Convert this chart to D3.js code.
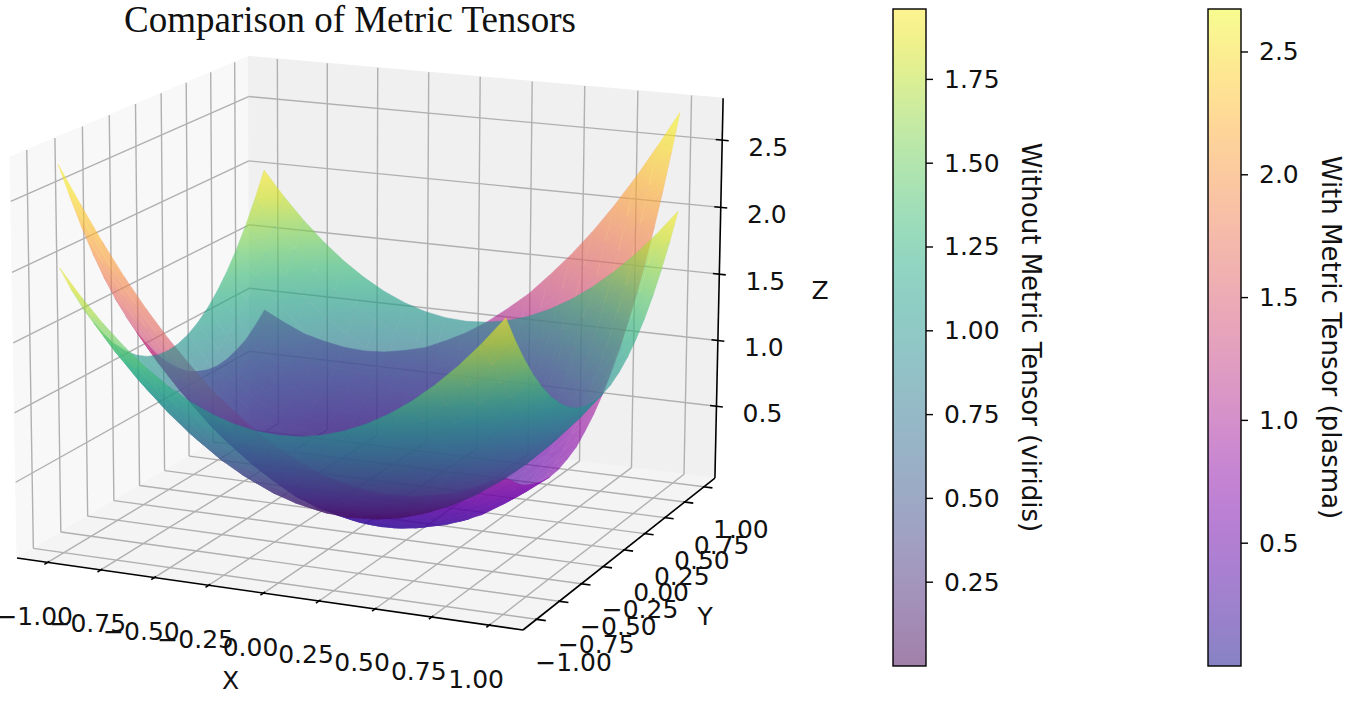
<!DOCTYPE html>
<html>
<head>
<meta charset="utf-8">
<script src="https://cdn.jsdelivr.net/npm/d3@7"></script>
<style>
body{margin:0;background:#fff;}
text{font-family:"DejaVu Sans",sans-serif;font-size:25px;fill:#111;}
.title{font-family:"Liberation Serif","Times New Roman",serif;font-size:37px;}
.cbtitle{font-size:26px;}
</style>
</head>
<body>
<svg id="vis" width="1352" height="703"></svg>
<script>

// sample grid (x along columns, y along rows)
var gridX = [-1,-0.9,-0.8,-0.7,-0.6,-0.5,-0.4,-0.3,-0.2,-0.1,0,0.1,0.2,0.3,0.4,0.5,0.6,0.7,0.8,0.9,1];
var gridY = [-1,-0.9,-0.8,-0.7,-0.6,-0.5,-0.4,-0.3,-0.2,-0.1,0,0.1,0.2,0.3,0.4,0.5,0.6,0.7,0.8,0.9,1];

// surface without metric tensor (viridis)
var zWithout = [
 [2,1.81,1.64,1.49,1.36,1.25,1.16,1.09,1.04,1.01,1,1.01,1.04,1.09,1.16,1.25,1.36,1.49,1.64,1.81,2],
 [1.81,1.62,1.45,1.3,1.17,1.06,0.97,0.9,0.85,0.82,0.81,0.82,0.85,0.9,0.97,1.06,1.17,1.3,1.45,1.62,1.81],
 [1.64,1.45,1.28,1.13,1,0.89,0.8,0.73,0.68,0.65,0.64,0.65,0.68,0.73,0.8,0.89,1,1.13,1.28,1.45,1.64],
 [1.49,1.3,1.13,0.98,0.85,0.74,0.65,0.58,0.53,0.5,0.49,0.5,0.53,0.58,0.65,0.74,0.85,0.98,1.13,1.3,1.49],
 [1.36,1.17,1,0.85,0.72,0.61,0.52,0.45,0.4,0.37,0.36,0.37,0.4,0.45,0.52,0.61,0.72,0.85,1,1.17,1.36],
 [1.25,1.06,0.89,0.74,0.61,0.5,0.41,0.34,0.29,0.26,0.25,0.26,0.29,0.34,0.41,0.5,0.61,0.74,0.89,1.06,1.25],
 [1.16,0.97,0.8,0.65,0.52,0.41,0.32,0.25,0.2,0.17,0.16,0.17,0.2,0.25,0.32,0.41,0.52,0.65,0.8,0.97,1.16],
 [1.09,0.9,0.73,0.58,0.45,0.34,0.25,0.18,0.13,0.1,0.09,0.1,0.13,0.18,0.25,0.34,0.45,0.58,0.73,0.9,1.09],
 [1.04,0.85,0.68,0.53,0.4,0.29,0.2,0.13,0.08,0.05,0.04,0.05,0.08,0.13,0.2,0.29,0.4,0.53,0.68,0.85,1.04],
 [1.01,0.82,0.65,0.5,0.37,0.26,0.17,0.1,0.05,0.02,0.01,0.02,0.05,0.1,0.17,0.26,0.37,0.5,0.65,0.82,1.01],
 [1,0.81,0.64,0.49,0.36,0.25,0.16,0.09,0.04,0.01,0,0.01,0.04,0.09,0.16,0.25,0.36,0.49,0.64,0.81,1],
 [1.01,0.82,0.65,0.5,0.37,0.26,0.17,0.1,0.05,0.02,0.01,0.02,0.05,0.1,0.17,0.26,0.37,0.5,0.65,0.82,1.01],
 [1.04,0.85,0.68,0.53,0.4,0.29,0.2,0.13,0.08,0.05,0.04,0.05,0.08,0.13,0.2,0.29,0.4,0.53,0.68,0.85,1.04],
 [1.09,0.9,0.73,0.58,0.45,0.34,0.25,0.18,0.13,0.1,0.09,0.1,0.13,0.18,0.25,0.34,0.45,0.58,0.73,0.9,1.09],
 [1.16,0.97,0.8,0.65,0.52,0.41,0.32,0.25,0.2,0.17,0.16,0.17,0.2,0.25,0.32,0.41,0.52,0.65,0.8,0.97,1.16],
 [1.25,1.06,0.89,0.74,0.61,0.5,0.41,0.34,0.29,0.26,0.25,0.26,0.29,0.34,0.41,0.5,0.61,0.74,0.89,1.06,1.25],
 [1.36,1.17,1,0.85,0.72,0.61,0.52,0.45,0.4,0.37,0.36,0.37,0.4,0.45,0.52,0.61,0.72,0.85,1,1.17,1.36],
 [1.49,1.3,1.13,0.98,0.85,0.74,0.65,0.58,0.53,0.5,0.49,0.5,0.53,0.58,0.65,0.74,0.85,0.98,1.13,1.3,1.49],
 [1.64,1.45,1.28,1.13,1,0.89,0.8,0.73,0.68,0.65,0.64,0.65,0.68,0.73,0.8,0.89,1,1.13,1.28,1.45,1.64],
 [1.81,1.62,1.45,1.3,1.17,1.06,0.97,0.9,0.85,0.82,0.81,0.82,0.85,0.9,0.97,1.06,1.17,1.3,1.45,1.62,1.81],
 [2,1.81,1.64,1.49,1.36,1.25,1.16,1.09,1.04,1.01,1,1.01,1.04,1.09,1.16,1.25,1.36,1.49,1.64,1.81,2]
];

// surface with metric tensor (plasma)
var zWith = [
 [2.73,2.47,2.22,1.99,1.78,1.59,1.42,1.26,1.13,1.01,0.91,0.83,0.76,0.72,0.69,0.68,0.69,0.72,0.76,0.83,0.91],
 [2.47,2.21,1.97,1.76,1.56,1.37,1.21,1.06,0.94,0.83,0.74,0.66,0.61,0.57,0.56,0.56,0.57,0.61,0.66,0.74,0.83],
 [2.22,1.97,1.75,1.54,1.35,1.17,1.02,0.88,0.76,0.66,0.58,0.52,0.47,0.45,0.44,0.45,0.47,0.52,0.58,0.66,0.76],
 [1.99,1.76,1.54,1.34,1.16,0.99,0.85,0.72,0.61,0.52,0.45,0.39,0.35,0.34,0.34,0.35,0.39,0.45,0.52,0.61,0.72],
 [1.78,1.56,1.35,1.16,0.98,0.83,0.69,0.57,0.47,0.39,0.33,0.28,0.25,0.25,0.25,0.28,0.33,0.39,0.47,0.57,0.69],
 [1.59,1.37,1.17,0.99,0.83,0.68,0.56,0.45,0.35,0.28,0.23,0.19,0.17,0.17,0.19,0.23,0.28,0.35,0.45,0.56,0.68],
 [1.42,1.21,1.02,0.85,0.69,0.56,0.44,0.34,0.25,0.19,0.15,0.12,0.11,0.12,0.15,0.19,0.25,0.34,0.44,0.56,0.69],
 [1.26,1.06,0.88,0.72,0.57,0.45,0.34,0.25,0.17,0.12,0.08,0.06,0.06,0.08,0.12,0.17,0.25,0.34,0.45,0.57,0.72],
 [1.13,0.94,0.76,0.61,0.47,0.35,0.25,0.17,0.11,0.06,0.04,0.03,0.04,0.06,0.11,0.17,0.25,0.35,0.47,0.61,0.76],
 [1.01,0.83,0.66,0.52,0.39,0.28,0.19,0.12,0.06,0.03,0.01,0.01,0.03,0.06,0.12,0.19,0.28,0.39,0.52,0.66,0.83],
 [0.91,0.74,0.58,0.45,0.33,0.23,0.15,0.08,0.04,0.01,0,0.01,0.04,0.08,0.15,0.23,0.33,0.45,0.58,0.74,0.91],
 [0.83,0.66,0.52,0.39,0.28,0.19,0.12,0.06,0.03,0.01,0.01,0.03,0.06,0.12,0.19,0.28,0.39,0.52,0.66,0.83,1.01],
 [0.76,0.61,0.47,0.35,0.25,0.17,0.11,0.06,0.04,0.03,0.04,0.06,0.11,0.17,0.25,0.35,0.47,0.61,0.76,0.94,1.13],
 [0.72,0.57,0.45,0.34,0.25,0.17,0.12,0.08,0.06,0.06,0.08,0.12,0.17,0.25,0.34,0.45,0.57,0.72,0.88,1.06,1.26],
 [0.69,0.56,0.44,0.34,0.25,0.19,0.15,0.12,0.11,0.12,0.15,0.19,0.25,0.34,0.44,0.56,0.69,0.85,1.02,1.21,1.42],
 [0.68,0.56,0.45,0.35,0.28,0.23,0.19,0.17,0.17,0.19,0.23,0.28,0.35,0.45,0.56,0.68,0.83,0.99,1.17,1.37,1.59],
 [0.69,0.57,0.47,0.39,0.33,0.28,0.25,0.25,0.25,0.28,0.33,0.39,0.47,0.57,0.69,0.83,0.98,1.16,1.35,1.56,1.78],
 [0.72,0.61,0.52,0.45,0.39,0.35,0.34,0.34,0.35,0.39,0.45,0.52,0.61,0.72,0.85,0.99,1.16,1.34,1.54,1.76,1.99],
 [0.76,0.66,0.58,0.52,0.47,0.45,0.44,0.45,0.47,0.52,0.58,0.66,0.76,0.88,1.02,1.17,1.35,1.54,1.75,1.97,2.22],
 [0.83,0.74,0.66,0.61,0.57,0.56,0.56,0.57,0.61,0.66,0.74,0.83,0.94,1.06,1.21,1.37,1.56,1.76,1.97,2.21,2.47],
 [0.91,0.83,0.76,0.72,0.69,0.68,0.69,0.72,0.76,0.83,0.91,1.01,1.13,1.26,1.42,1.59,1.78,1.99,2.22,2.47,2.73]
];

var xTicks = [-1,-0.75,-0.5,-0.25,0,0.25,0.5,0.75,1];
var xTickLabels = ["\u22121.00","\u22120.75","\u22120.50","\u22120.25","0.00","0.25","0.50","0.75","1.00"];
var yTicks = [-1,-0.75,-0.5,-0.25,0,0.25,0.5,0.75,1];
var yTickLabels = ["\u22121.00","\u22120.75","\u22120.50","\u22120.25","0.00","0.25","0.50","0.75","1.00"];
var zTicks = [0.5,1,1.5,2,2.5];
var zTickLabels = ["0.5","1.0","1.5","2.0","2.5"];

// colour ranges of the two colorbars
var withoutRange = [0, 1.96];
var withRange = [0, 2.675];
var withoutTicks = [0.25,0.5,0.75,1,1.25,1.5,1.75];
var withoutTickLabels = ["0.25","0.50","0.75","1.00","1.25","1.50","1.75"];
var withTicks = [0.5,1,1.5,2,2.5];
var withTickLabels = ["0.5","1.0","1.5","2.0","2.5"];

// axis box limits
var xBox = [-1.146, 1.146], yBox = [-1.146, 1.146], zBox = [-0.05, 2.81];


function drawChart(){
    var svg = d3.select("#vis");
    svg.selectAll("*").remove();
    svg.append("rect").attr("width", 1352).attr("height", 703).attr("fill", "#fff");
    var defs = svg.append("defs");

    var uScale = d3.scaleLinear().domain(xBox).range([0, 1]);
    var vScale = d3.scaleLinear().domain(yBox).range([0, 1]);
    var wScale = d3.scaleLinear().domain(zBox).range([0, 1]);

    // perspective camera: screen spots of the box origin and the 3 axis-end corners, plus depth weights
    var cam = {o: [17, 558], ex: [523, 630], ey: [250, 420], ez: [10, 157], wx: 0.95, wy: 1.109, wz: 0.978};

    function proj(x, y, z){
        var u = uScale(x), v = vScale(y), w = wScale(z);
        var hx = cam.o[0] + u*(cam.wx*cam.ex[0]-cam.o[0]) + v*(cam.wy*cam.ey[0]-cam.o[0]) + w*(cam.wz*cam.ez[0]-cam.o[0]);
        var hy = cam.o[1] + u*(cam.wx*cam.ex[1]-cam.o[1]) + v*(cam.wy*cam.ey[1]-cam.o[1]) + w*(cam.wz*cam.ez[1]-cam.o[1]);
        var hw = 1 + u*(cam.wx-1) + v*(cam.wy-1) + w*(cam.wz-1);
        return [hx/hw, hy/hw, hw];
    }
    var line = d3.line();
    function poly(pts){ return line(pts.map(function(p){return [p[0], p[1]];})) + "Z"; }

    var x0 = xBox[0], x1 = xBox[1], y0 = yBox[0], y1 = yBox[1], z0 = zBox[0], z1 = zBox[1];

    //panes
    var panes = [
        {c: [[x0,y0,z0],[x0,y1,z0],[x0,y1,z1],[x0,y0,z1]], fill: "#f8f8f8"},
        {c: [[x0,y1,z0],[x1,y1,z0],[x1,y1,z1],[x0,y1,z1]], fill: "#f0f0f0"},
        {c: [[x0,y0,z0],[x1,y0,z0],[x1,y1,z0],[x0,y1,z0]], fill: "#f4f4f4"}
    ];
    svg.append("g").selectAll("path")
        .data(panes)
        .enter().append("path")
        .attr("d", function(d){ return poly(d.c.map(function(p){return proj(p[0],p[1],p[2]);})); })
        .attr("fill", function(d){return d.fill;})
        .attr("stroke", function(d){return d.fill;});

    //grid lines on the panes
    var grid = [];
    yTicks.forEach(function(y){ grid.push([[x0,y,z0],[x0,y,z1]]); grid.push([[x0,y,z0],[x1,y,z0]]); });
    xTicks.forEach(function(x){ grid.push([[x,y1,z0],[x,y1,z1]]); grid.push([[x,y0,z0],[x,y1,z0]]); });
    zTicks.forEach(function(z){ grid.push([[x0,y0,z],[x0,y1,z]]); grid.push([[x0,y1,z],[x1,y1,z]]); });
    svg.append("g").selectAll("line")
        .data(grid)
        .enter().append("line")
        .each(function(d){
            var a = proj(d[0][0],d[0][1],d[0][2]), b = proj(d[1][0],d[1][1],d[1][2]);
            d3.select(this).attr("x1",a[0]).attr("y1",a[1]).attr("x2",b[0]).attr("y2",b[1]);
        })
        .attr("stroke", "#b0b0b0")
        .attr("stroke-width", 1.4);

    //surfaces
    var gid = 0;
    function surface(zs, cmap, range){
        var quads = [];
        for(var j = 0; j < gridY.length-1; j++){
            for(var i = 0; i < gridX.length-1; i++){
                var idx = [[i,j],[i+1,j],[i+1,j+1],[i,j+1]];
                var pts = idx.map(function(p){ return proj(gridX[p[0]], gridY[p[1]], zs[p[1]][p[0]]); });
                var zv = idx.map(function(p){ return zs[p[1]][p[0]]; });
                var area = 0;
                for(var k = 0; k < 4; k++){
                    var p = pts[k], q = pts[(k+1)%4];
                    area += p[0]*q[1] - q[0]*p[1];
                }
                quads.push({pts: pts, zv: zv, avg: d3.mean(zv), area: area, depth: d3.mean(pts, function(p){return p[2];})});
            }
        }
        var color = d3.scaleSequential(cmap).domain(range).clamp(true);

        // shade each cell along its own z slope in screen space
        quads.forEach(function(q){
            var P = q.pts, Z = q.zv;
            q.stroke = color(q.avg);
            q.fill = q.stroke;
            var du = [(P[1][0]+P[2][0]-P[0][0]-P[3][0])/2, (P[1][1]+P[2][1]-P[0][1]-P[3][1])/2];
            var dv = [(P[2][0]+P[3][0]-P[0][0]-P[1][0])/2, (P[2][1]+P[3][1]-P[0][1]-P[1][1])/2];
            var dzu = (Z[1]+Z[2]-Z[0]-Z[3])/2, dzv = (Z[2]+Z[3]-Z[0]-Z[1])/2;
            var det = du[0]*dv[1] - du[1]*dv[0];
            if(Math.abs(det) < 1e-6) return;
            var gx = (dzu*dv[1] - du[1]*dzv)/det, gy = (du[0]*dzv - dzu*dv[0])/det;
            var g2 = gx*gx + gy*gy, half = (d3.max(Z) - d3.min(Z))/2;
            if(g2 < 1e-12 || half < 0.003) return;
            var cx = d3.mean(P, function(p){return p[0];}), cy = d3.mean(P, function(p){return p[1];});
            var k = half/g2, id = "cell" + (gid++);
            var grad = defs.append("linearGradient").attr("id", id)
                .attr("gradientUnits", "userSpaceOnUse")
                .attr("x1", cx - gx*k).attr("y1", cy - gy*k)
                .attr("x2", cx + gx*k).attr("y2", cy + gy*k);
            grad.append("stop").attr("offset", 0).attr("stop-color", color(q.avg - half));
            grad.append("stop").attr("offset", 0.5).attr("stop-color", color(q.avg));
            grad.append("stop").attr("offset", 1).attr("stop-color", color(q.avg + half));
            q.fill = "url(#" + id + ")";
        });

        var mid = quads[Math.floor(quads.length/2)];
        var sign = mid.area > 0 ? 1 : -1;
        var top = quads.filter(function(q){ return q.area*sign > 0; });
        var under = quads.filter(function(q){ return q.area*sign <= 0; });
        [top, under].forEach(function(list){
            list.sort(function(a, b){ return b.depth - a.depth; });
            svg.append("g").attr("opacity", 0.62)
                .selectAll("path")
                .data(list)
                .enter().append("path")
                .attr("d", function(d){ return poly(d.pts); })
                .attr("fill", function(d){ return d.fill; })
                .attr("stroke", function(d){ return d.stroke; })
                .attr("stroke-width", 0.6)
                .attr("stroke-linejoin", "round");
        });
    }
    surface(zWith, d3.interpolatePlasma, withRange);
    surface(zWithout, d3.interpolateViridis, withoutRange);

    //axis lines
    var axes = [
        [[x0,y0,z0],[x1,y0,z0]],
        [[x1,y0,z0],[x1,y1,z0]],
        [[x1,y1,z0],[x1,y1,z1]]
    ];
    var ticks = [];
    xTicks.forEach(function(x){ ticks.push([[x,y0+0.015,z0],[x,y0-0.03,z0]]); });
    yTicks.forEach(function(y){ ticks.push([[x1-0.005,y,z0],[x1+0.04,y,z0]]); });
    zTicks.forEach(function(z){ ticks.push([[x1-0.03,y1,z],[x1+0.03,y1,z]]); });
    svg.append("g").selectAll("line")
        .data(axes.concat(ticks))
        .enter().append("line")
        .each(function(d){
            var a = proj(d[0][0],d[0][1],d[0][2]), b = proj(d[1][0],d[1][1],d[1][2]);
            d3.select(this).attr("x1",a[0]).attr("y1",a[1]).attr("x2",b[0]).attr("y2",b[1]);
        })
        .attr("stroke", "#000")
        .attr("stroke-width", 1.6);

    //tick labels
    var labels = svg.append("g");
    labels.selectAll(".xlab")
        .data(xTicks)
        .enter().append("text")
        .attr("class", "xlab")
        .attr("x", function(d){ return proj(d, y0, z0)[0] - 13; })
        .attr("y", function(d){ return proj(d, y0, z0)[1] + 54; })
        .attr("text-anchor", "middle")
        .attr("dominant-baseline", "central")
        .text(function(d, i){ return xTickLabels[i]; });
    labels.selectAll(".ylab")
        .data(yTicks)
        .enter().append("text")
        .attr("class", "ylab")
        .attr("x", function(d){ return proj(x1, d, z0)[0] + 37; })
        .attr("y", function(d){ return proj(x1, d, z0)[1] + 43; })
        .attr("text-anchor", "middle")
        .attr("dominant-baseline", "central")
        .text(function(d, i){ return yTickLabels[i]; });
    labels.selectAll(".zlab")
        .data(zTicks)
        .enter().append("text")
        .attr("class", "zlab")
        .attr("x", function(d){ return proj(x1, y1, d)[0] + 46; })
        .attr("y", function(d){ return proj(x1, y1, d)[1] + 7; })
        .attr("text-anchor", "middle")
        .attr("dominant-baseline", "central")
        .text(function(d, i){ return zTickLabels[i]; });

    //axis titles
    var xm = proj(0, y0, z0), ym = proj(x1, 0, z0), zm = proj(x1, y1, (z0+z1)/2);
    labels.append("text").attr("x", xm[0]-33).attr("y", xm[1]+87)
        .attr("text-anchor","middle").attr("dominant-baseline","central").text("X");
    labels.append("text").attr("x", ym[0]+81).attr("y", ym[1]+67)
        .attr("text-anchor","middle").attr("dominant-baseline","central").text("Y");
    labels.append("text").attr("x", zm[0]+101).attr("y", zm[1])
        .attr("text-anchor","middle").attr("dominant-baseline","central").text("Z");

    //title
    svg.append("text").attr("class", "title")
        .attr("x", 350).attr("y", 32)
        .attr("text-anchor", "middle")
        .text("Comparison of Metric Tensors");

    //colorbars
    function colorbar(id, left, titleX, range, cmap, tks, tkLabels, title){
        var w = 33;
        var y = d3.scaleLinear().domain(range).range([666, 9]);
        var grad = defs.append("linearGradient").attr("id", id)
            .attr("x1", 0).attr("y1", 1).attr("x2", 0).attr("y2", 0);
        grad.selectAll("stop")
            .data(d3.range(0, 1.0001, 0.05))
            .enter().append("stop")
            .attr("offset", function(d){ return d; })
            .attr("stop-color", function(d){ return cmap(d); });
        var g = svg.append("g");
        g.append("rect").attr("x", left).attr("y", y(range[1])).attr("width", w)
            .attr("height", y(range[0]) - y(range[1]))
            .attr("fill", "url(#" + id + ")").attr("fill-opacity", 0.5);
        g.append("rect").attr("x", left).attr("y", y(range[1])).attr("width", w)
            .attr("height", y(range[0]) - y(range[1]))
            .attr("fill", "none").attr("stroke", "#000").attr("stroke-width", 1.4);
        g.selectAll(".cbtick")
            .data(tks)
            .enter().append("line")
            .attr("x1", left + w).attr("x2", left + w + 7)
            .attr("y1", function(d){ return y(d); }).attr("y2", function(d){ return y(d); })
            .attr("stroke", "#000").attr("stroke-width", 1.4);
        g.selectAll(".cblab")
            .data(tks)
            .enter().append("text")
            .attr("x", left + w + 18)
            .attr("y", function(d){ return y(d); })
            .attr("dominant-baseline", "central")
            .text(function(d, i){ return tkLabels[i]; });
        g.append("text")
            .attr("class", "cbtitle")
            .attr("transform", "translate(" + titleX + "," + ((y(range[0]) + y(range[1]))/2) + ") rotate(90)")
            .attr("text-anchor", "middle")
            .attr("dominant-baseline", "central")
            .text(title);
    }
    colorbar("gradWithout", 893, 1031, withoutRange, d3.interpolateViridis, withoutTicks, withoutTickLabels, "Without Metric Tensor (viridis)");
    colorbar("gradWith", 1208, 1331, withRange, d3.interpolatePlasma, withTicks, withTickLabels, "With Metric Tensor (plasma)");
}

drawChart();
</script>
</body>
</html>
